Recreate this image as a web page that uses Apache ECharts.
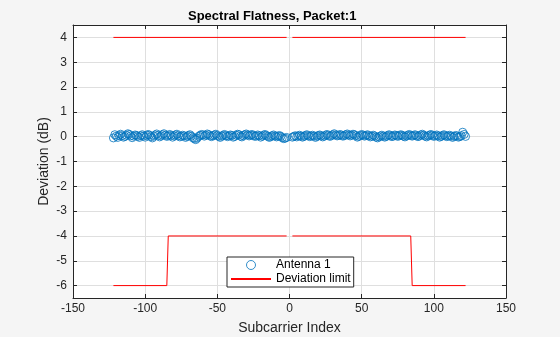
<!DOCTYPE html>
<html>
<head>
<meta charset="utf-8">
<script src="https://cdn.jsdelivr.net/npm/echarts@6/dist/echarts.min.js"></script>
<style>html,body{margin:0;padding:0;background:#f5f5f5;}#c{width:560px;height:337px;}</style>
</head>
<body>
<div id="c"></div>
<script>
// Subcarrier index ranges (DC nulls at -1,0,1)
const subcarrierRanges = [[-122, -2], [2, 122]];
// Measured deviation (dB), Antenna 1, left half k=-122..-2
const deviationLeft = [
 -0.05, 0.08, 0.02, -0.03, 0.05, 0.10, 0.04, -0.02, 0.01, 0.06,
 0.12, 0.09, 0.03, -0.04, 0.02, 0.07, 0.05, 0.01, -0.03, 0.04,
 0.08, 0.03, -0.02, 0.05, 0.09, 0.06, 0.00, -0.05, 0.02, 0.07,
 0.11, 0.05, -0.01, 0.03, 0.08, 0.12, 0.06, 0.01, 0.04, 0.09,
 0.05, -0.02, 0.03, 0.07, 0.10, 0.04, -0.01, 0.02, 0.06, 0.03,
 -0.03, 0.01, 0.05, 0.08, 0.02, -0.04, -0.08, -0.12, -0.06, 0.01,
 0.05, 0.09, 0.07, 0.02, 0.06, 0.11, 0.08, 0.03, 0.00, 0.04,
 0.07, 0.10, 0.05, 0.01, -0.03, 0.02, 0.06, 0.09, 0.04, 0.00,
 0.03, 0.07, 0.05, -0.02, 0.01, 0.06, 0.10, 0.08, 0.02, -0.01,
 0.04, 0.08, 0.11, 0.07, 0.03, 0.06, 0.09, 0.05, 0.01, 0.03,
 0.07, 0.04, -0.02, 0.02, 0.06, 0.09, 0.05, 0.01, -0.03, 0.00,
 0.04, 0.07, 0.03, -0.01, 0.02, 0.05, 0.01, -0.04, -0.08, -0.06,
 -0.03
];
// right half k=2..122
const deviationRight = [
 -0.02, 0.01, 0.04, -0.01, 0.03, 0.06, 0.02, -0.02, 0.01, 0.05,
 0.08, 0.04, 0.00, 0.03, 0.06, 0.02, -0.03, 0.01, 0.05, 0.07,
 0.03, -0.01, 0.02, 0.06, 0.09, 0.05, 0.01, 0.04, 0.08, 0.12,
 0.07, 0.03, 0.05, 0.09, 0.06, 0.02, 0.04, 0.08, 0.11, 0.07,
 0.03, 0.06, 0.10, 0.08, 0.04, -0.02, 0.01, 0.05, 0.09, 0.06,
 0.02, 0.05, 0.08, 0.04, -0.01, 0.02, 0.06, 0.03, -0.02, -0.05,
 -0.01, 0.03, 0.06, 0.02, -0.02, 0.01, 0.05, 0.08, 0.04, 0.00,
 0.03, 0.07, 0.05, 0.01, 0.04, 0.08, 0.06, 0.02, -0.01, 0.03,
 0.06, 0.09, 0.05, 0.02, 0.05, 0.08, 0.04, 0.00, 0.03, 0.07,
 0.10, 0.06, 0.02, -0.01, 0.03, 0.06, 0.09, 0.05, 0.01, 0.04,
 0.07, 0.03, -0.02, 0.01, 0.05, 0.08, 0.04, 0.00, 0.03, 0.06,
 0.02, -0.03, 0.01, 0.05, 0.03, -0.02, 0.00, 0.04, 0.18, 0.09,
 0.01
];
// Deviation limits
const upperLimitLeftX = [-122, -2];
const upperLimitLeftY = [4, 4];
const upperLimitRightX = [2, 122];
const upperLimitRightY = [4, 4];
const lowerLimitLeftX = [-122, -85, -84, -2];
const lowerLimitLeftY = [-6, -6, -4, -4];
const lowerLimitRightX = [2, 84, 85, 122];
const lowerLimitRightY = [-4, -4, -6, -6];
// Axis ticks
const xTicks = [-150, -100, -50, 0, 50, 100, 150];
const yTicks = [-6, -5, -4, -3, -2, -1, 0, 1, 2, 3, 4];

function range(a, b) { const r = []; for (let k = a; k <= b; k++) r.push(k); return r; }
const idxLeft = range(subcarrierRanges[0][0], subcarrierRanges[0][1]);
const idxRight = range(subcarrierRanges[1][0], subcarrierRanges[1][1]);
const scatterData = idxLeft.map((k, i) => [k, deviationLeft[i]])
  .concat(idxRight.map((k, i) => [k, deviationRight[i]]));
const zip = (xs, ys) => xs.map((x, i) => [x, ys[i]]);

const FONT = 'Liberation Sans';
const TXT = '#262626';
const lineStyleLimit = { color: '#ff0000', width: 1 };
function limitSeries(d) {
  return { name: 'Deviation limit', type: 'line', data: d, symbol: 'none',
    lineStyle: lineStyleLimit, itemStyle: { color: '#ff0000' }, animation: false, z: 3 };
}

const chart = echarts.init(document.getElementById('c'), null, { renderer: 'canvas' });
const axBase = {
  type: 'value',
  axisLine: { show: true, onZero: false, lineStyle: { color: TXT, width: 1 } },
  axisTick: { show: true, inside: true, length: 4, lineStyle: { color: TXT } },
};
chart.setOption({
  backgroundColor: '#f5f5f5',
  animation: false,
  title: {
    text: 'Spectral Flatness, Packet:1',
    left: 183, top: 5,
    textStyle: { fontFamily: FONT, fontSize: 13, fontWeight: 'bold', color: '#000' }
  },
  grid: { left: 73, right: 54, top: 25, bottom: 39, show: true, backgroundColor: '#fff', borderWidth: 0,
    containLabel: false, outerBoundsMode: 'none' },
  legend: {
    left: 227, top: 257, orient: 'vertical',
    backgroundColor: '#fff', borderColor: TXT, borderWidth: 1, borderRadius: 0,
    padding: [2, 3, 2, 3], itemWidth: 40, itemHeight: 9, itemGap: 2,
    textStyle: { fontFamily: FONT, fontSize: 12, color: '#000' },
    data: [
      { name: 'Antenna 1', itemStyle: { color: '#fff', borderColor: '#0072bd', borderWidth: 1 } },
      { name: 'Deviation limit', itemStyle: { color: 'rgba(0,0,0,0)', borderColor: 'rgba(0,0,0,0)', borderWidth: 0 } }
    ]
  },
  xAxis: [
    Object.assign({}, axBase, {
      position: 'bottom', min: -150, max: 150, interval: 50,
      name: 'Subcarrier Index', nameLocation: 'middle', nameGap: 23, nameMoveOverlap: false,
      nameTextStyle: { fontFamily: FONT, fontSize: 14, color: TXT },
      axisLabel: { fontFamily: FONT, fontSize: 12, color: TXT, margin: 5 },
      splitLine: { show: true, lineStyle: { color: '#dfdfdf', width: 1 } }
    }),
    Object.assign({}, axBase, {
      position: 'top', min: -150, max: 150, interval: 50,
      axisLabel: { show: false }, splitLine: { show: false }
    })
  ],
  yAxis: [
    Object.assign({}, axBase, {
      position: 'left', min: -6.5, max: 4.5,
      name: 'Deviation (dB)', nameLocation: 'middle', nameGap: 22, nameMoveOverlap: false,
      nameTextStyle: { fontFamily: FONT, fontSize: 14, color: TXT },
      axisTick: { show: true, inside: true, length: 4, lineStyle: { color: TXT }, customValues: yTicks },
      axisLabel: { fontFamily: FONT, fontSize: 12, color: TXT, margin: 6, customValues: yTicks },
      splitLine: { show: true, lineStyle: { color: '#dfdfdf', width: 1 } }
    }),
    Object.assign({}, axBase, {
      position: 'right', min: -6.5, max: 4.5,
      axisTick: { show: true, inside: true, length: 4, lineStyle: { color: TXT }, customValues: yTicks },
      axisLabel: { show: false, customValues: yTicks }, splitLine: { show: false }
    })
  ],
  series: [
    { name: 'Antenna 1', type: 'scatter', data: scatterData, symbol: 'circle', symbolSize: 8,
      itemStyle: { color: 'rgba(0,0,0,0)', borderColor: '#0072bd', borderWidth: 1 }, z: 4 },
    limitSeries(zip(upperLimitLeftX, upperLimitLeftY)),
    limitSeries(zip(upperLimitRightX, upperLimitRightY)),
    limitSeries(zip(lowerLimitLeftX, lowerLimitLeftY)),
    limitSeries(zip(lowerLimitRightX, lowerLimitRightY))
  ]
});
</script>
</body>
</html>
